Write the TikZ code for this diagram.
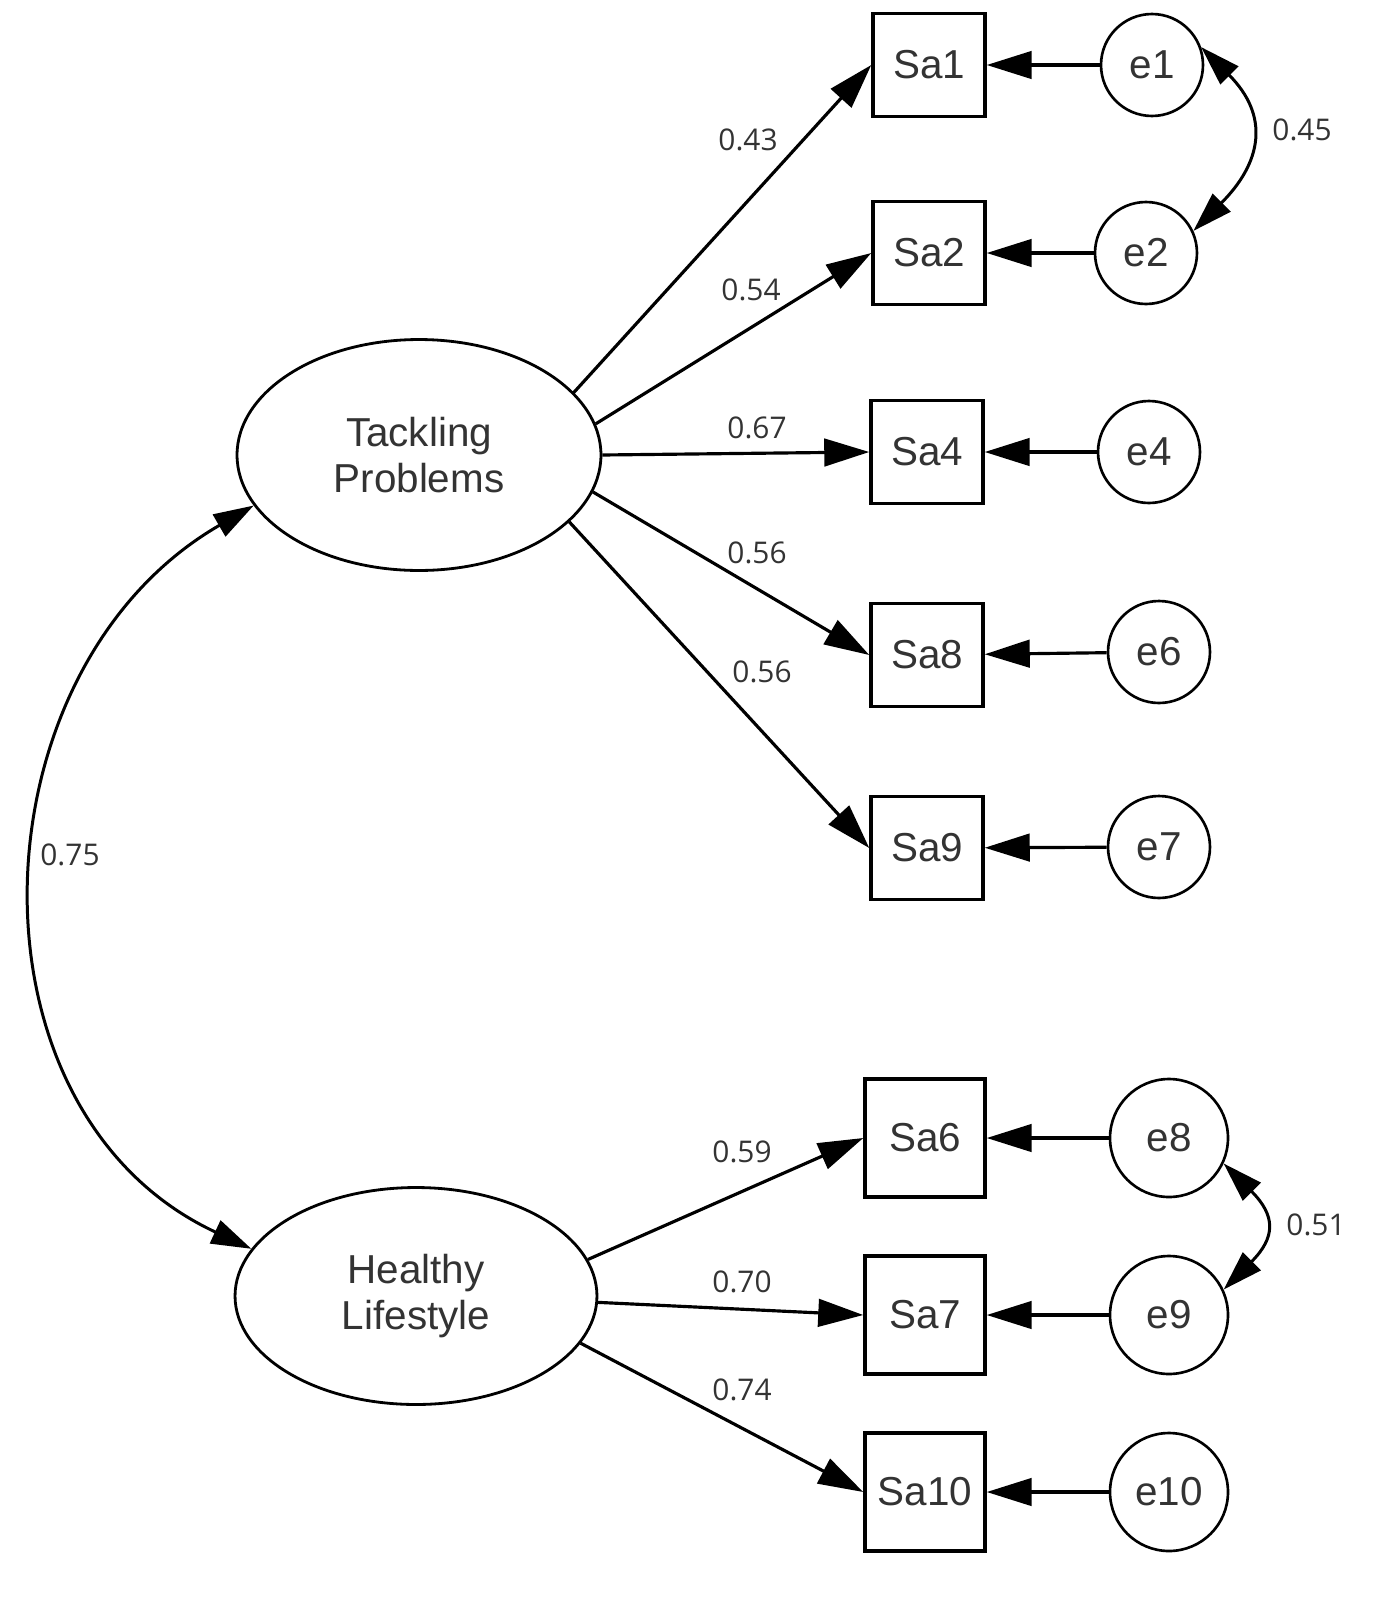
\documentclass[tikz,border=0pt]{standalone}
\usepackage{fontspec}
\setmainfont{Liberation Sans}
\newfontfamily\lblfont{Open Sans}
\usetikzlibrary{shapes.geometric, arrows.meta}

\begin{document}
\begin{tikzpicture}[x=0.02cm, y=0.02cm,
  every node/.style={text=black!80},
  latent/.style={draw=black, ellipse, line width=1.6pt, inner sep=0pt, align=center, font=\fontsize{23}{26}\selectfont},
  obs/.style={draw=black, rectangle, line width=2pt, minimum width=2.24cm, minimum height=2.06cm, inner sep=0pt, font=\fontsize{23}{26}\selectfont},
  obsl/.style={obs, minimum width=2.4cm, minimum height=2.36cm},
  err/.style={draw=black, circle, line width=1.5pt, minimum size=2.04cm, inner sep=0pt, font=\fontsize{23}{26}\selectfont},
  errl/.style={err, minimum size=2.36cm},
  load/.style={-{Triangle[length=0.9cm, width=0.55cm]}, line width=1.8pt},
  cov/.style={{Triangle[length=0.8cm, width=0.5cm]}-{Triangle[length=0.8cm, width=0.5cm]}, line width=1.7pt},
  lbl/.style={font=\lblfont\fontsize{17}{20}\selectfont}
]
  \fill[white] (0,0) rectangle (1392,-1606);
  \useasboundingbox (0,0) rectangle (1392,-1606);

  % latent factors
  \node[latent, minimum width=7.28cm, minimum height=4.62cm] (tp) at (419,-455) {Tackling\\Problems};
  \node[latent, minimum width=7.24cm, minimum height=4.34cm] (hl) at (416,-1296) {Healthy\\Lifestyle};

  % observed items
  \node[obs] (sa1) at (929,-65) {Sa1};
  \node[obs] (sa2) at (929,-253) {Sa2};
  \node[obs] (sa4) at (927,-452) {Sa4};
  \node[obs] (sa8) at (927,-655) {Sa8};
  \node[obs] (sa9) at (927,-848) {Sa9};
  \node[obsl] (sa6) at (925,-1138) {Sa6};
  \node[obsl] (sa7) at (925,-1315) {Sa7};
  \node[obsl] (sa10) at (925,-1492) {Sa10};

  % error terms
  \node[err] (e1) at (1152,-65) {e1};
  \node[err] (e2) at (1146,-253) {e2};
  \node[err] (e4) at (1149,-452) {e4};
  \node[err] (e6) at (1159,-652) {e6};
  \node[err] (e7) at (1159,-847) {e7};
  \node[errl] (e8) at (1169,-1138) {e8};
  \node[errl] (e9) at (1169,-1315) {e9};
  \node[errl] (e10) at (1169,-1492) {e10};

  % loadings
  \draw[load] (tp.22) -- (sa1.west);
  \draw[load] (tp.10) -- (sa2.west);
  \draw[load] (tp.east) -- (sa4.west);
  \draw[load] (tp.-12) -- (sa8.west);
  \draw[load] (tp.-24) -- (sa9.west);
  \draw[load] (hl.12) -- (sa6.west);
  \draw[load] (hl.-2) -- (sa7.west);
  \draw[load] (hl.-16) -- (sa10.west);

  % errors
  \draw[load] (e1) -- (sa1);
  \draw[load] (e2) -- (sa2);
  \draw[load] (e4) -- (sa4);
  \draw[load] (e6) -- (sa8);
  \draw[load] (e7) -- (sa9);
  \draw[load] (e8) -- (sa6);
  \draw[load] (e9) -- (sa7);
  \draw[load] (e10) -- (sa10);

  % covariances
  \draw[cov] (tp.197) to[out=210, in=155, looseness=1.12] (hl.164);
  \draw[cov] (e1.20) to[out=-45, in=45, looseness=1.35] (e2.25);
  \draw[cov] (e8.-25) to[out=-45, in=45, looseness=1.5] (e9.25);

  % estimates
  \node[lbl] (l1) at (748,-140) {0.43};
  \node[lbl] (l2) at (751,-290) {0.54};
  \node[lbl] (l4) at (757,-428) {0.67};
  \node[lbl] (l8) at (757,-553) {0.56};
  \node[lbl] (l9) at (762,-672) {0.56};
  \node[lbl] (l6) at (742,-1152) {0.59};
  \node[lbl] (l7) at (742,-1282) {0.70};
  \node[lbl] (l10) at (742,-1390) {0.74};
  \node[lbl] (lc) at (70,-855) {0.75};
  \node[lbl] (le12) at (1302,-130) {0.45};
  \node[lbl] (le89) at (1316,-1225) {0.51};
\end{tikzpicture}
\end{document}
